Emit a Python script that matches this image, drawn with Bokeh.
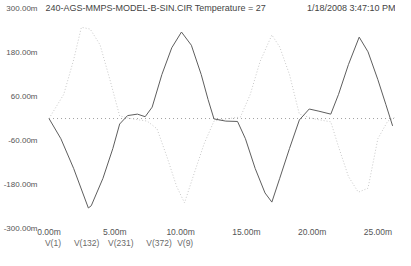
from bokeh.plotting import figure
from bokeh.models import Range1d, FixedTicker, Label, LinearAxis
from bokeh.embed import file_html
from bokeh.resources import INLINE

# time in ms, voltages in mV ("m" units as in the reference)
t_v9 = [0, 0.9, 1.87, 2.99, 3.21, 4.10, 4.85, 5.37, 5.97, 6.72, 7.31, 7.84, 8.58, 9.33,
        10.07, 10.82, 11.57, 12.09, 12.54, 13.43, 14.33, 14.93, 15.67, 16.42, 16.94, 17.54,
        18.28, 19.03, 19.78, 20.52, 21.42, 22.01, 22.76, 23.58, 24.25, 25.0, 25.6, 26.12]
v9 = [0, -55, -136, -244, -238, -163, -82, -15, 8, 12, 5, 31, 120, 193,
      236, 200, 120, 52, -1, -7, -8, -55, -136, -203, -228, -163,
      -82, -4, 26, 20, 12, 66, 147, 222, 182, 106, 39, -20]

t_v2 = [0, 1.12, 1.87, 2.46, 3.13, 3.88, 4.63, 5.37, 6.34, 7.46, 8.21, 8.96, 9.70, 10.30,
        11.04, 11.79, 12.54, 13.43, 14.55, 15.30, 16.04, 16.94, 17.54, 18.28, 19.03, 20.15,
        21.42, 22.01, 22.76, 23.51, 24.25, 25.0, 25.75, 26.34]
v2 = [0, 66, 160, 249, 244, 201, 106, 7, -1, -7, -28, -104, -185, -230,
      -149, -69, -7, -1, 4, 66, 155, 228, 195, 120, 12, -1,
      -9, -77, -158, -201, -190, -55, -7, 4]

t_v132 = [0, 26.34]
v132 = [0, 0]

x_ticks = [0, 5, 10, 15, 20, 25]
x_tick_labels = ["0.00m", "5.00m", "10.00m", "15.00m", "20.00m", "25.00m"]
y_ticks = [300, 180, 60, -60, -180, -300]
y_tick_labels = ["300.00m", "180.00m", "60.00m", "-60.00m", "-180.00m", "-300.00m"]

# trace legend (PSpice style, a row of trace names under the time axis)
legend_names = ["V(1)", "V(132)", "V(231)", "V(372)", "V(9)"]
legend_at = [0.3, 2.86, 5.46, 8.36, 10.35]

title_text = "240-AGS-MMPS-MODEL-B-SIN.CIR Temperature = 27"
date_text = "1/18/2008 3:47:10 PM"

FONT = "Liberation Sans"

p = figure(width=395, height=250, output_backend="svg", toolbar_location=None,
           x_range=Range1d(-0.8, 26.34), y_range=Range1d(-300, 322),
           min_border_left=35, min_border_right=0, min_border_top=0, min_border_bottom=20)
p.grid.visible = False
p.outline_line_color = None
p.background_fill_color = "white"
p.border_fill_color = "white"

leg_axis = LinearAxis(ticker=FixedTicker(ticks=legend_at))
p.add_layout(leg_axis, "below")

for ax in (p.xaxis[0], p.yaxis[0], leg_axis):
    ax.axis_line_color = None
    ax.major_tick_line_color = None
    ax.minor_tick_line_color = None
    ax.major_tick_out = 0
    ax.major_tick_in = 0
    ax.major_label_text_font = FONT
    ax.major_label_text_font_size = "8.5px"
    ax.major_label_text_color = "#555555"

p.xaxis[0].ticker = FixedTicker(ticks=x_ticks)
p.xaxis[0].major_label_overrides = {k: s for k, s in zip(x_ticks, x_tick_labels)}
p.xaxis[0].major_label_standoff = -2
p.yaxis[0].ticker = FixedTicker(ticks=y_ticks)
p.yaxis[0].major_label_overrides = {k: s for k, s in zip(y_ticks, y_tick_labels)}
p.yaxis[0].major_label_standoff = 1
p.yaxis[0].major_label_text_font_size = "8px"
leg_axis.major_label_overrides = {k: s for k, s in zip(legend_at, legend_names)}
leg_axis.major_label_standoff = -2
leg_axis.major_label_text_color = "#6a6a6a"

p.line(t_v132, v132, line_color="#a0a0a0", line_width=1, line_dash="1 3")
p.line(t_v2, v2, line_color="#c8c8c8", line_width=1, line_dash="1 2")
p.line(t_v9, v9, line_color="#5e5e5e", line_width=1)

p.add_layout(Label(x=-0.8, y=301, x_offset=7, text=title_text,
                   text_font=FONT, text_font_size="9px", text_color="#444444",
                   text_baseline="middle", text_align="left"))
p.add_layout(Label(x=26.34, y=301, text=date_text,
                   text_font=FONT, text_font_size="9px", text_color="#444444",
                   text_baseline="middle", text_align="right"))

open("out.html", "w").write(file_html(p, INLINE))
